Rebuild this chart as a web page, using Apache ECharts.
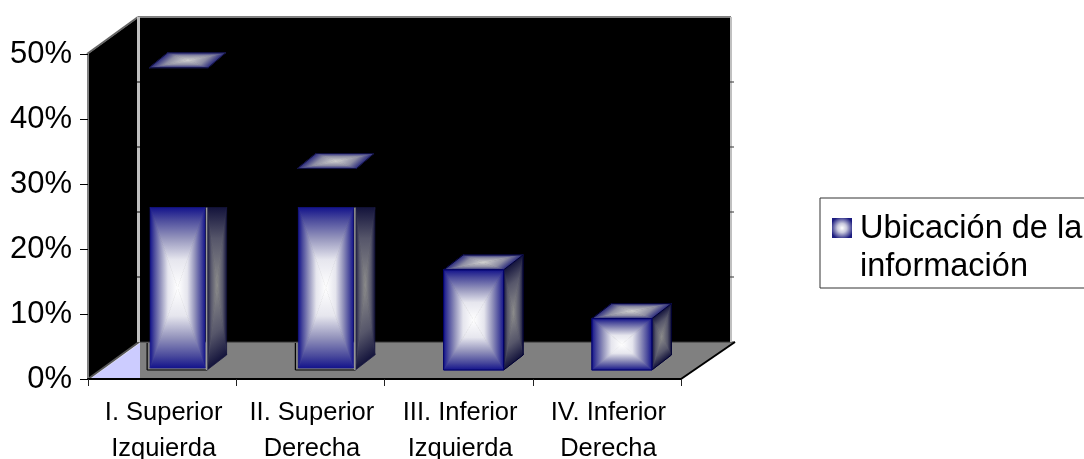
<!DOCTYPE html>
<html>
<head>
<meta charset="utf-8">
<style>html,body{margin:0;padding:0;background:#fff}#c{width:1084px;height:459px}</style>
<script src="https://cdn.jsdelivr.net/npm/echarts@6/dist/echarts.min.js"></script>
</head>
<body>
<div id="c"></div>
<script>
var categories = ['I. Superior\nIzquierda', 'II. Superior\nDerecha', 'III. Inferior\nIzquierda', 'IV. Inferior\nDerecha'];
var values = [46.5, 31, 15.4, 7.9];
var visibleBody = [25, 25, null, null];
var yTicks = [0, 10, 20, 30, 40, 50];
var seriesName = 'Ubicación de la\ninformación';

var FONT = '"Liberation Sans", Arial, sans-serif';
var faceStops = [[0, '#14148c'], [0.15, '#4a4a9c'], [0.38, '#9494bc'], [0.65, '#e6e6ee'], [1, '#ffffff']];
var sideStops = [[0, '#14143c'], [0.4, '#56566a'], [1, '#8c8c8c']];
var capStops = [[0, '#2a2a7c'], [0.4, '#8e8ea4'], [1, '#d0d0d0']];

function mkStops(s) { return s.map(function (p) { return { offset: p[0], color: p[1] }; }); }

function fan(points, stops, outline) {
  var n = points.length, cx = 0, cy = 0, kids = [];
  points.forEach(function (p) { cx += p[0] / n; cy += p[1] / n; });
  for (var i = 0; i < n; i++) {
    var a = points[i], b = points[(i + 1) % n];
    var ex = b[0] - a[0], ey = b[1] - a[1], L = ex * ex + ey * ey;
    if (!L) continue;
    var t = ((cx - a[0]) * ex + (cy - a[1]) * ey) / L;
    var fx = a[0] + t * ex, fy = a[1] + t * ey;
    var g = new echarts.graphic.LinearGradient(fx, fy, cx, cy, mkStops(stops), true);
    kids.push({ type: 'polygon', silent: true, shape: { points: [a, b, [cx, cy]] }, style: { fill: g, stroke: g, lineWidth: 0.7 } });
  }
  if (outline) kids.push({ type: 'polygon', silent: true, shape: { points: points }, style: { fill: 'none', stroke: outline, lineWidth: 1 } });
  return kids;
}
function line(x1, y1, x2, y2, color, w) {
  return { type: 'line', silent: true, shape: { x1: x1, y1: y1, x2: x2, y2: y2 }, style: { stroke: color, lineWidth: w } };
}

function renderWalls(params, api) {
  var cs = params.coordSys, DX = 51, DY = -37;
  var x0 = cs.x, x1 = cs.x + cs.width, yT = cs.y, yB = cs.y + cs.height;
  var bx0 = x0 + DX, bx1 = x1 + DX, byT = yT + DY, byB = yB + DY;
  var kids = [
    { type: 'polygon', silent: true, shape: { points: [[x0, yT], [bx0, byT], [bx1 - 1, byT], [bx1 - 1, byB], [bx0, byB], [x0, yB]] }, style: { fill: '#000' } },
    { type: 'polygon', silent: true, shape: { points: [[bx0 + 1, byB], [bx1 + 3, byB], [x1, yB], [bx0 + 1, yB]] }, style: { fill: '#808080' } },
    { type: 'polygon', silent: true, shape: { points: [[x0 + 2, yB], [bx0 + 1, byB + 1], [bx0 + 1, yB]] }, style: { fill: '#ccccff' } },
    line(bx0, byB, bx1 + 3, byB, '#333333', 1),
    line(x1, yB, bx1 + 3, byB, '#000000', 2),
    line(x0, yB, bx0, byB, '#555555', 2),
    line(x0 - 1, yT, bx0 - 1, byT, '#666666', 2),
    line(bx0 - 1, byT, bx1 - 1, byT, '#808080', 2),
    line(bx0 - 0.5, byT, bx0 - 0.5, byB, '#c0c0c0', 3),
    line(bx1 - 1, byT, bx1 - 1, byB, '#c0c0c0', 2)
  ];
  yTicks.forEach(function (v) {
    if (v === 0 || v === 50) return;
    var y = api.coord([0, v])[1] + DY;
    kids.push(line(bx0 - 2, y, bx0 + 1, y, '#000', 1));
    kids.push(line(bx1 - 2, y, bx1 + 2, y, '#333', 1));
  });
  return { type: 'group', children: kids };
}

function renderBar(params, api) {
  var i = api.value(0), v = api.value(1), body = api.value(2);
  var c = api.coord([i, 0]);
  var xl = c[0] + 15 - 30, xr = xl + 60;
  var yb = c[1] - 9, yt = api.coord([i, v])[1] - 9;
  var SX = 19.5, SY = -15;
  var kids = [];
  if (!isNaN(body)) {
    var yc = api.coord([i, body])[1] - 9;
    kids = kids.concat(fan([[xr, yc], [xr + SX, yc], [xr + SX, yb + SY], [xr, yb]], sideStops));
    kids = kids.concat(fan([[xl + 3, yc], [xr - 2, yc], [xr - 2, yb - 2], [xl + 3, yb - 2]], faceStops));
    kids.push(line(xl, yb + SY - 12, xl, yb, '#000', 1.2));
    kids.push(line(xl, yb, xr, yb, '#000', 1.2));
    kids.push(line(xr - 0.5, yc, xr - 0.5, yb, '#9a9a9a', 1.5));
    kids = kids.concat(fan([[xl + 2, yt], [xr + 1, yt], [xr + SX - 1, yt + SY], [xl + 2 + SX - 1, yt + SY]], capStops, '#101040'));
  } else {
    kids = kids.concat(fan([[xr, yt], [xr + SX, yt + SY], [xr + SX, yb + SY], [xr, yb]], sideStops, '#000033'));
    kids = kids.concat(fan([[xl, yt], [xl + SX, yt + SY], [xr + SX, yt + SY], [xr, yt]], capStops, '#000033'));
    kids = kids.concat(fan([[xl, yt], [xr, yt], [xr, yb], [xl, yb]], faceStops, '#000066'));
  }
  return { type: 'group', children: kids };
}

var chart = echarts.init(document.getElementById('c'), null, { renderer: 'canvas' });
chart.setOption({
  animation: false,
  backgroundColor: '#ffffff',
  textStyle: { fontFamily: FONT },
  grid: { left: 88, right: 403, top: 54, bottom: 80, outerBoundsMode: 'none' },
  legend: {
    show: true, left: 820, top: 198, orient: 'vertical',
    padding: [12, 12, 2, 12], borderColor: '#333333', borderWidth: 1, backgroundColor: '#fff',
    itemWidth: 23, itemHeight: 60, itemGap: 0, selectedMode: false,
    textStyle: { fontFamily: FONT, fontSize: 32.5, lineHeight: 38, color: '#000' },
    data: [{
      name: seriesName,
      icon: 'path://M0 0L20 0L20 20L0 20ZM0 60L23 60',
      itemStyle: {
        color: new echarts.graphic.RadialGradient(0.435, 0.167, 0.5, [{ offset: 0, color: '#ffffff' }, { offset: 0.4, color: '#c8c8dc' }, { offset: 1, color: '#1c1c80' }]),
        borderWidth: 0
      }
    }]
  },
  xAxis: {
    type: 'category', data: categories, z: 3,
    axisLine: { lineStyle: { color: '#000', width: 2 } },
    axisTick: { show: true, length: 7, alignWithLabel: false, lineStyle: { color: '#222', width: 1 } },
    axisLabel: { interval: 0, margin: 16, fontSize: 25.5, lineHeight: 36, color: '#000', fontFamily: FONT, padding: [0, 0, 0, 3] }
  },
  yAxis: {
    type: 'value', min: 0, max: 50, interval: 10, z: 3,
    axisLine: { show: true, lineStyle: { color: '#808080', width: 2 } },
    axisTick: { show: true, length: 8, lineStyle: { color: '#000', width: 1 } },
    splitLine: { show: false },
    axisLabel: { margin: 16, fontSize: 31, color: '#000', formatter: '{value}%', fontFamily: FONT, padding: [5, 0, 0, 0] }
  },
  series: [
    { type: 'custom', name: 'walls', z: 1, silent: true, renderItem: renderWalls, data: [[0, 0]], encode: { x: 0, y: 1 } },
    {
      type: 'custom', name: seriesName, z: 2, silent: true, renderItem: renderBar,
      encode: { x: 0, y: 1 },
      data: values.map(function (v, i) { return [i, v, visibleBody[i] === null ? NaN : visibleBody[i]]; })
    }
  ]
});
</script>
</body>
</html>
